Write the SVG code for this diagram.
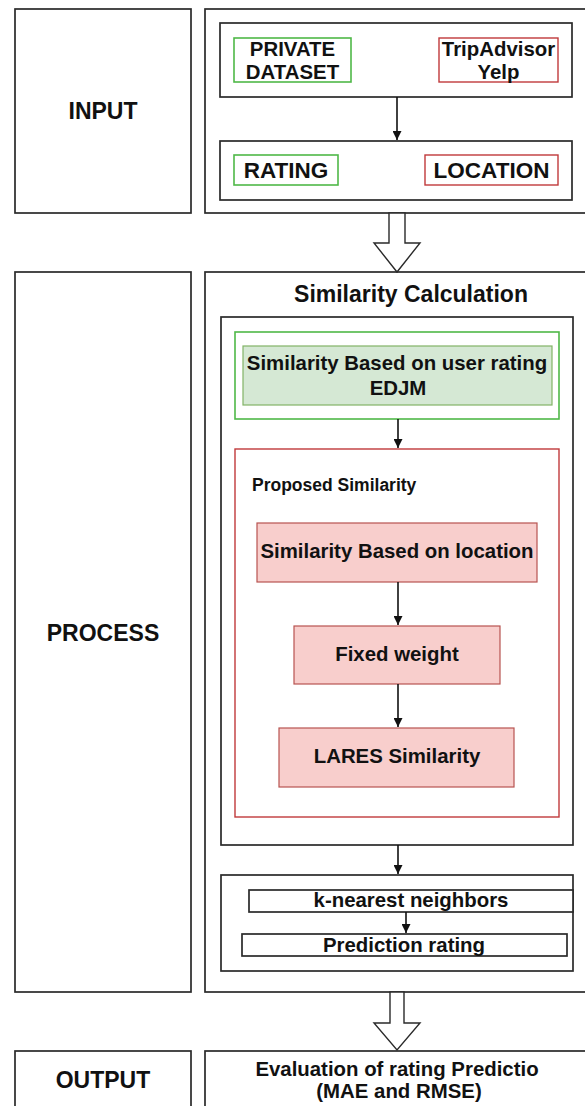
<svg xmlns="http://www.w3.org/2000/svg" width="585" height="1106" viewBox="0 0 585 1106">
<defs>
<style>
.box{fill:#fff;stroke:#2a2a2a;stroke-width:1.7}
.gbox{fill:none;stroke:#4fb848;stroke-width:1.6}
.rbox{fill:none;stroke:#c0393b;stroke-width:1.4}
.gfill{fill:#d5e8d4;stroke:#82b366;stroke-width:1.2}
.pfill{fill:#f8cecc;stroke:#b85450;stroke-width:1.2}
text{font-family:"Liberation Sans",Arial,sans-serif;font-weight:bold;fill:#111;text-anchor:middle}
.lbl{font-size:23px}
.t20{font-size:20.4px}
.t22{font-size:22.5px}
.conn{stroke:#111;stroke-width:1.6;fill:none}
.hollow{fill:#fff;stroke:#2a2a2a;stroke-width:1.4}
</style>
<marker id="ah" viewBox="0 0 10 10" refX="10" refY="5" markerWidth="9" markerHeight="9" markerUnits="userSpaceOnUse" orient="auto">
<path d="M0,0 L10,5 L0,10 Z" fill="#111"/>
</marker>
</defs>

<g id="input-label">
<rect class="box" x="15" y="9" width="176" height="204"/>
<text class="lbl" x="103" y="119">INPUT</text>
</g>
<g id="input-panel">
<rect class="box" x="205" y="9" width="400" height="204"/>
</g>
<g id="datasets">
<rect class="box" x="220" y="23" width="352" height="74"/>
</g>
<g id="private-dataset">
<rect class="gbox" x="234" y="38" width="117" height="44"/>
<text class="t20" x="292.5" y="56">PRIVATE</text>
<text class="t20" x="292.5" y="79">DATASET</text>
</g>
<g id="tripadvisor-yelp">
<rect class="rbox" x="439" y="38" width="119" height="44"/>
<text class="t20" x="498.5" y="56">TripAdvisor</text>
<text class="t20" x="498.5" y="79">Yelp</text>
</g>
<g id="features">
<rect class="box" x="220" y="141" width="352" height="59"/>
</g>
<g id="rating">
<rect class="gbox" x="234" y="155" width="104" height="30"/>
<text class="t22" x="286" y="178">RATING</text>
</g>
<g id="location">
<rect class="rbox" x="425" y="155" width="133" height="30"/>
<text class="t22" x="491.5" y="178">LOCATION</text>
</g>

<g id="process-label">
<rect class="box" x="15" y="272" width="176" height="720"/>
<text class="lbl" x="103" y="641">PROCESS</text>
</g>
<g id="process-panel">
<rect class="box" x="205" y="272" width="400" height="720"/>
<text x="411" y="302" style="font-size:23px">Similarity Calculation</text>
</g>
<g id="similarity-container">
<rect class="box" x="221" y="317" width="352" height="528"/>
</g>
<g id="rating-similarity">
<rect class="gbox" x="235" y="332" width="324" height="87"/>
<rect class="gfill" x="243" y="346" width="309" height="59"/>
<text class="t20" x="397" y="370">Similarity Based on user rating</text>
<text class="t20" x="398" y="395">EDJM</text>
</g>
<g id="proposed-similarity">
<rect class="rbox" x="235" y="449" width="324" height="368"/>
<text x="252" y="491" style="font-size:17.5px;text-anchor:start">Proposed Similarity</text>
</g>
<g id="location-similarity">
<rect class="pfill" x="257" y="523" width="280" height="59"/>
<text class="t20" x="397" y="558">Similarity Based on location</text>
</g>
<g id="fixed-weight">
<rect class="pfill" x="294" y="626" width="206" height="58"/>
<text class="t20" x="397" y="661">Fixed weight</text>
</g>
<g id="lares-similarity">
<rect class="pfill" x="279" y="728" width="235" height="59"/>
<text class="t20" x="397" y="763">LARES Similarity</text>
</g>
<g id="prediction-container">
<rect class="box" x="221" y="875" width="352" height="96"/>
</g>
<g id="knn">
<rect class="box" x="249" y="890" width="324" height="22"/>
<text class="t20" x="411" y="907">k-nearest neighbors</text>
</g>
<g id="prediction-rating">
<rect class="box" x="242" y="934" width="325" height="22"/>
<text class="t20" x="404" y="952">Prediction rating</text>
</g>

<g id="output-label">
<rect class="box" x="15" y="1051" width="176" height="80"/>
<text class="lbl" x="103" y="1088">OUTPUT</text>
</g>
<g id="evaluation">
<rect class="box" x="205" y="1051" width="400" height="80"/>
<text class="t20" x="397" y="1076">Evaluation of rating Predictio</text>
<text class="t20" x="399" y="1098">(MAE and RMSE)</text>
</g>

<g id="connectors">
<line class="conn" x1="397" y1="97" x2="397" y2="140" marker-end="url(#ah)"/>
<path class="hollow" d="M389,213 L405,213 L405,243 L420,243 L397,272 L374,243 L389,243 Z"/>
<line class="conn" x1="398" y1="419" x2="398" y2="448" marker-end="url(#ah)"/>
<line class="conn" x1="398" y1="582" x2="398" y2="625" marker-end="url(#ah)"/>
<line class="conn" x1="398" y1="684" x2="398" y2="727" marker-end="url(#ah)"/>
<line class="conn" x1="398" y1="845" x2="398" y2="874" marker-end="url(#ah)"/>
<line class="conn" x1="406" y1="912" x2="406" y2="933" marker-end="url(#ah)"/>
<path class="hollow" d="M390,992 L404,992 L404,1023 L420,1023 L397,1050 L374,1023 L390,1023 Z"/>
</g>
</svg>
